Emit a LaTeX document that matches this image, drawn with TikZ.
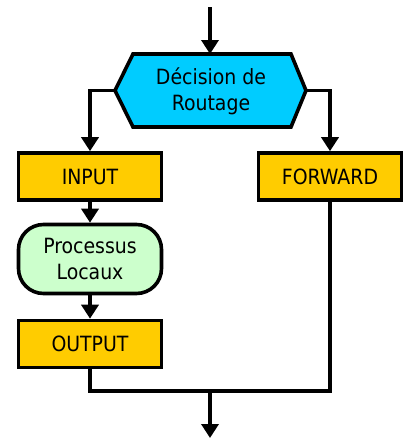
\documentclass[tikz,border=0pt]{standalone}
\usepackage{fontspec}
\setmainfont{DejaVu Sans Condensed}
\usetikzlibrary{shapes.geometric,arrows.meta}
\definecolor{hexcyan}{HTML}{00CCFF}
\definecolor{boxgold}{HTML}{FFCC00}
\definecolor{procgreen}{HTML}{CCFFCC}
\tikzset{
  conn/.style={line width=3.6pt},
  arr/.style={conn,-{Triangle[width=17pt,length=14pt]}},
  chainbox/.style={draw,line width=3.6pt,fill=boxgold,minimum width=143pt,minimum height=47pt,inner sep=0pt,font=\fontsize{21}{24}\selectfont},
  procbox/.style={draw,line width=3.6pt,fill=procgreen,rounded corners=25pt,minimum width=143pt,minimum height=69pt,inner sep=0pt,align=center,font=\fontsize{21}{26}\selectfont},
}
\begin{document}
\begin{tikzpicture}[x=1pt,y=-1pt]
\useasboundingbox (0,0) rectangle (406,439);
\coordinate (top) at (210,7);
\draw[line width=3.6pt,fill=hexcyan,line join=miter]
  (133,54) -- (291,54) -- (306,90.5) -- (291,127) -- (133,127) -- (115,90.5) -- cycle;
\node[align=center,font=\fontsize{21}{26}\selectfont] (dec) at (211,91) {Décision de\\Routage};
\coordinate (decT) at (210,54);
\coordinate (decL) at (115,90.5);
\coordinate (decR) at (306,90.5);
\node[chainbox] (input) at (90,176.5) {INPUT};
\node[chainbox] (forward) at (330,176.5) {FORWARD};
\node[procbox] (proc) at (90,259) {Processus\\Locaux};
\node[chainbox] (output) at (90,344) {OUTPUT};
\coordinate (join) at (210,391);
\coordinate (bottom) at (210,438);
\draw[arr] (top) -- (decT);
\draw[arr] (decL) -| (input.north);
\draw[arr] (decR) -| (forward.north);
\draw[arr] (input) -- (proc);
\draw[arr] (proc) -- (output);
\draw[conn,line join=miter] (output.south) |- (join) -| (forward.south);
\draw[arr] (join) -- (bottom);
\end{tikzpicture}
\end{document}
